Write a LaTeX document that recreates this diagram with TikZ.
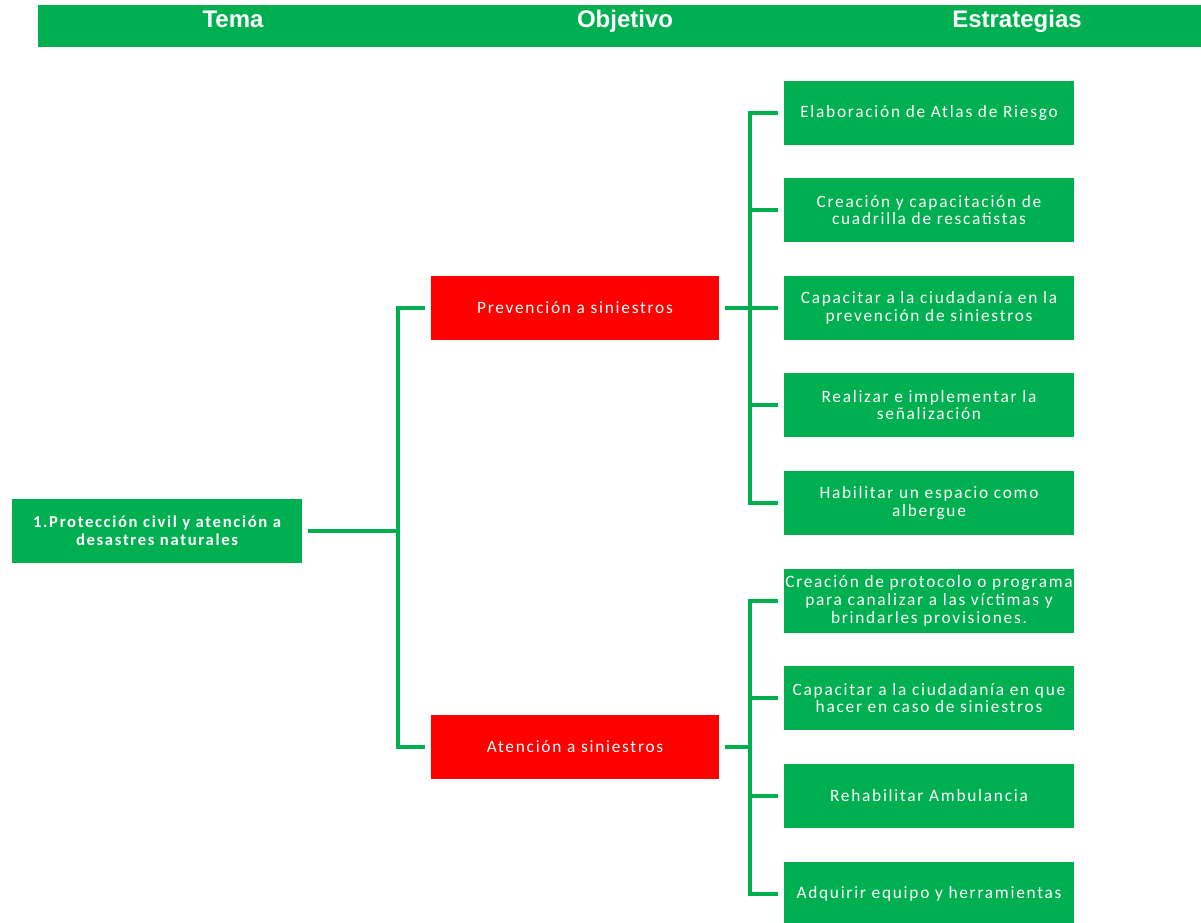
\documentclass[tikz,border=0pt]{standalone}
\usepackage{fontspec}
\setmainfont{Carlito}[LetterSpace=10]
\newfontfamily\encabezado{Liberation Sans}
\usetikzlibrary{positioning}
\definecolor{verde}{HTML}{00B050}
\definecolor{rojo}{HTML}{FF0000}
\tikzset{
  caja/.style={fill=verde, text=white, inner sep=0pt, minimum width=217.5pt, minimum height=48pt, align=center, font=\fontsize{13}{13.3}\selectfont},
  cajaroja/.style={caja, fill=rojo, minimum width=216pt},
  titulo/.style={text=white, anchor=base, font=\encabezado\bfseries\fontsize{18}{20}\selectfont},
  linea/.style={verde, line width=3pt}
}

\begin{document}
\begin{tikzpicture}[x=0.75pt, y=-0.75pt]
        \useasboundingbox (0,0) rectangle (1201,922);
        \fill[verde] (38,5) rectangle (1201,47);
        \node[titulo] (tema) at (233,27) {Tema};
        \node[titulo] (objetivo) at (625,27) {Objetivo};
        \node[titulo] (estrategias) at (1017,27) {Estrategias};

        \node[caja, font=\bfseries\fontsize{12.5}{13.3}\selectfont] (proteccion) at (157,531) {1.Protección civil y atención a\\desastres naturales};
        \node[cajaroja] (prevencion) at (575,308) {Prevención a siniestros};
        \node[cajaroja] (atencion) at (575,747) {Atención a siniestros};

        \node[caja] (e1) at (929,113) {Elaboración de Atlas de Riesgo};
        \node[caja] (e2) at (929,210) {Creación y capacitación de\\cuadrilla de rescatistas};
        \node[caja] (e3) at (929,308) {Capacitar a la ciudadanía en la\\prevención de siniestros};
        \node[caja] (e4) at (929,405) {Realizar e implementar la\\señalización};
        \node[caja] (e5) at (929,503) {Habilitar un espacio como\\albergue};
        \node[caja] (e6) at (929,601) {Creación de protocolo o programa\\para canalizar a las víctimas y\\brindarles provisiones.};
        \node[caja] (e7) at (929,698) {Capacitar a la ciudadanía en que\\hacer en caso de siniestros};
        \node[caja] (e8) at (929,796) {Rehabilitar Ambulancia};
        \node[caja] (e9) at (929,894) {Adquirir equipo y herramientas};

        \coordinate (b1) at (398,531);
        \coordinate (b2) at (750,308);
        \coordinate (b3) at (750,747);

        \draw[linea, shorten <=4pt] (proteccion.east) -- (b1);
        \foreach \n in {prevencion, atencion}
          \draw[linea, shorten >=4pt] (b1) |- (\n.west);

        \draw[linea, shorten <=4pt] (prevencion.east) -- (b2);
        \foreach \n in {e1, e2, e3, e4, e5}
          \draw[linea, shorten >=4pt] (b2) |- (\n.west);

        \draw[linea, shorten <=4pt] (atencion.east) -- (b3);
        \foreach \n in {e6, e7, e8, e9}
          \draw[linea, shorten >=4pt] (b3) |- (\n.west);
\end{tikzpicture}
\end{document}
